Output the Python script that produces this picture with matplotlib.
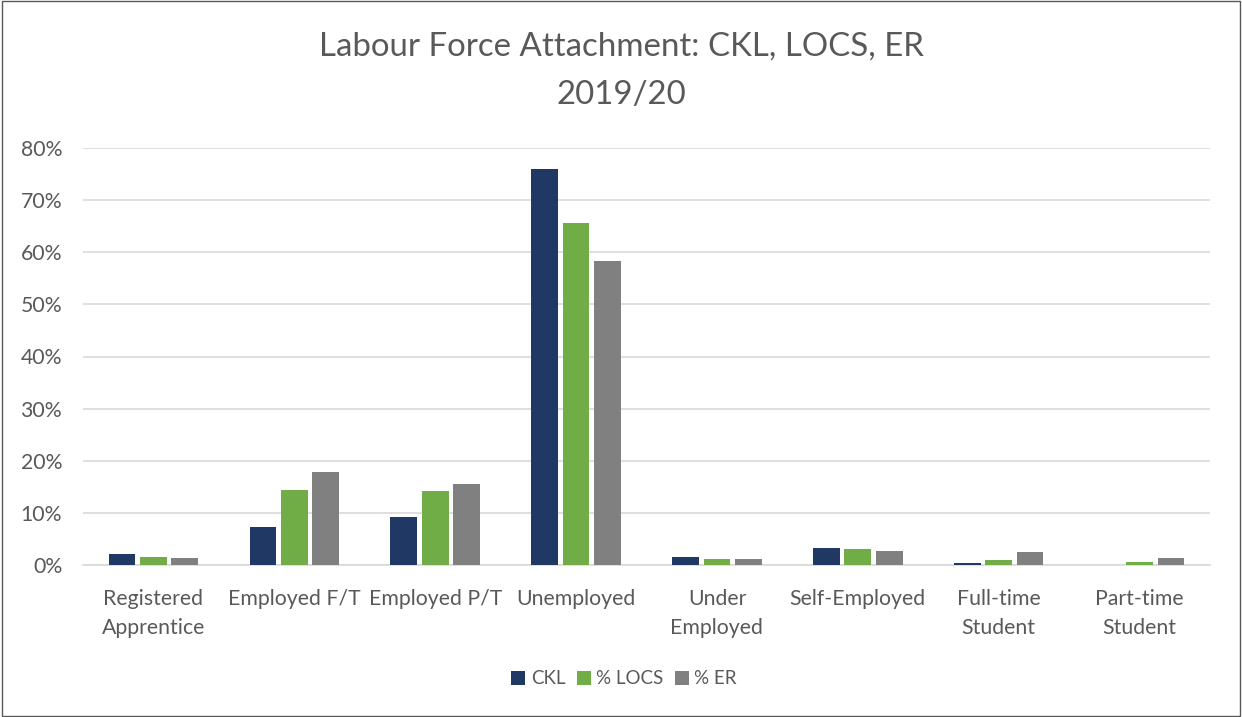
import matplotlib
matplotlib.use("Agg")
import matplotlib.pyplot as plt
import numpy as np
from matplotlib.ticker import FuncFormatter

categories = ["Registered\nApprentice", "Employed F/T", "Employed P/T", "Unemployed",
              "Under\nEmployed", "Self-Employed", "Full-time\nStudent", "Part-time\nStudent"]
ckl = [2.2, 7.35, 9.15, 75.9, 1.5, 3.2, 0.45, 0.0]
locs = [1.5, 14.4, 14.2, 65.6, 1.2, 3.0, 1.0, 0.6]
er = [1.3, 17.8, 15.5, 58.3, 1.15, 2.7, 2.55, 1.35]
series_names = ["CKL", "% LOCS", "% ER"]
colors = ["#203864", "#70AD47", "#808080"]
yticks = [0, 10, 20, 30, 40, 50, 60, 70, 80]

plt.rcParams['font.family'] = ['Lato', 'DejaVu Sans']

fig = plt.figure(figsize=(12.42, 7.17), dpi=100)
ax = fig.add_axes([83/1242, 1-565/717, (1210-83)/1242, (565-148)/717])

x = np.arange(len(categories))
w = 0.19
off = 0.223
for i, (vals, name, c) in enumerate(zip([ckl, locs, er], series_names, colors)):
    ax.bar(x + (i-1)*off, vals, width=w, color=c, label=name, zorder=3)

ax.set_xlim(-0.5, len(categories)-0.5)
ax.set_ylim(0, 80)
ax.set_yticks(yticks)
ax.yaxis.set_major_formatter(FuncFormatter(lambda v, p: f"{int(v)}%"))
ax.set_xticks(x)
ax.set_xticklabels(categories, linespacing=1.6)
ax.tick_params(axis='both', length=0, labelsize=15.3, colors="#595959")
ax.tick_params(axis='x', pad=17)
ax.tick_params(axis='y', pad=15)
ax.grid(axis='y', color="#D9D9D9", linewidth=1.2, zorder=0)
for s in ["top", "right", "left"]:
    ax.spines[s].set_visible(False)
ax.spines["bottom"].set_color("#D9D9D9")
ax.spines["bottom"].set_linewidth(1.2)

fig.text(0.5, 1-47/717, "Labour Force Attachment: CKL, LOCS, ER", ha='center', va='center',
         fontsize=23.8, color="#595959")
fig.text(0.5, 1-95/717, "2019/20", ha='center', va='center', fontsize=23.8, color="#595959")

leg = fig.legend(loc='center', bbox_to_anchor=(624/1242, 1-679/717), ncol=3, frameon=False,
                 fontsize=13.5, handlelength=0.75, handleheight=0.75, handletextpad=0.3,
                 columnspacing=0.6, labelcolor="#595959")

border = plt.Rectangle((0.002, 0.002), 0.996, 0.996, transform=fig.transFigure,
                       fill=False, edgecolor="#595959", linewidth=1.0)
fig.patches.append(border)

fig.savefig("out.png", dpi=100)
